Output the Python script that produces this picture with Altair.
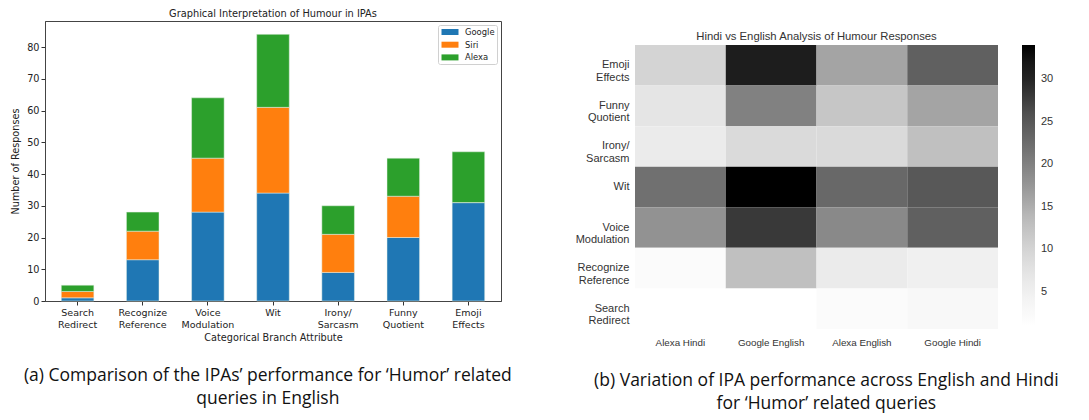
import altair as alt
import pandas as pd

# ---- Left panel data (stacked bars) ----
categories = ["Search|Redirect", "Recognize|Reference", "Voice|Modulation", "Wit",
              "Irony/|Sarcasm", "Funny|Quotient", "Emoji|Effects"]
series = ["Google", "Siri", "Alexa"]
google = [1, 13, 28, 34, 9, 20, 31]
siri = [2, 9, 17, 27, 12, 13, 0]
alexa = [2, 6, 19, 23, 9, 12, 16]
bar_colors = ["#1f77b4", "#ff7f0e", "#2ca02c"]
y_ticks = [0, 10, 20, 30, 40, 50, 60, 70, 80]

# ---- Right panel data (heatmap) ----
hm_rows = ["Emoji|Effects", "Funny|Quotient", "Irony/|Sarcasm", "Wit",
           "Voice|Modulation", "Recognize|Reference", "Search|Redirect"]
hm_cols = ["Alexa Hindi", "Google English", "Alexa English", "Google Hindi"]
alexa_hindi = [10, 7, 6, 22, 18, 2, 1]
google_english = [31, 20, 9, 34, 28, 13, 1]
alexa_english = [16, 12, 9, 23, 19, 6, 2]
google_hindi = [24, 16, 13, 25, 24, 5, 3]
cbar_ticks = [5, 10, 15, 20, 25, 30]
# matplotlib "Greys" colormap anchors, spread over the colour range 1..34
greys_stops = [1, 5.125, 9.25, 13.375, 17.5, 21.625, 25.75, 29.875, 34]
greys_colors = ["#ffffff", "#f0f0f0", "#d9d9d9", "#bdbdbd", "#969696",
                "#737373", "#525252", "#252525", "#000000"]

heat_title = "Hindi vs English Analysis of Humour Responses"
caption_a = ["(a) Comparison of the IPAs\u2019 performance for \u2018Humor\u2019 related",
             "queries in English"]
caption_b = ["(b) Variation of IPA performance across English and Hindi",
             "for \u2018Humor\u2019 related queries"]

rows = []
for i, c in enumerate(categories):
    for j, (s, vals) in enumerate(zip(series, [google, siri, alexa])):
        rows.append({"cat": c, "series": s, "value": vals[i], "ord": j})
bar_df = pd.DataFrame(rows)

hm = []
for col, vals in zip(hm_cols, [alexa_hindi, google_english, alexa_english, google_hindi]):
    for r, v in zip(hm_rows, vals):
        hm.append({"row": r, "col": col, "value": v})
hm_df = pd.DataFrame(hm)

MPL = "DejaVu Sans"
SNS = "Liberation Sans"

left = alt.Chart(bar_df).mark_bar(stroke="#e6f0e6", strokeWidth=0.5).encode(
    x=alt.X("cat:N", sort=categories,
            scale=alt.Scale(paddingInner=0.5, paddingOuter=0.25),
            axis=alt.Axis(title="Categorical Branch Attribute", labelAngle=0,
                          labelExpr="split(datum.value, '|')",
                          labelFont=MPL, labelFontSize=9.5, labelColor="#222",
                          labelLineHeight=12.5, labelPadding=2,
                          tickSize=4, tickColor="#333", domainColor="#444",
                          titleFont=MPL, titleFontSize=9.7, titleFontWeight="normal",
                          titleColor="#222", titlePadding=3)),
    y=alt.Y("value:Q", stack="zero",
            scale=alt.Scale(domain=[0, 88.2], nice=False),
            axis=alt.Axis(values=y_ticks, title="Number of Responses", grid=False,
                          labelFont=MPL, labelFontSize=9.7, labelColor="#222",
                          tickSize=4, tickColor="#333", domainColor="#444",
                          titleFont=MPL, titleFontSize=9.7, titleFontWeight="normal",
                          titleColor="#222", titlePadding=6)),
    color=alt.Color("series:N", sort=series,
                    scale=alt.Scale(domain=series, range=bar_colors),
                    legend=alt.Legend(title=None, orient="none", legendX=393, legendY=4,
                                      symbolType="M-1.7,-0.6L1.7,-0.6L1.7,0.6L-1.7,0.6Z",
                                      symbolSize=100, symbolStrokeWidth=0,
                                      symbolOffset=5,
                                      labelFont=MPL, labelFontSize=8.4, labelColor="#222",
                                      labelOffset=10, rowPadding=2.7,
                                      padding=2, strokeColor="#d0d0d0",
                                      fillColor="white", cornerRadius=2)),
    order=alt.Order("ord:Q", sort="ascending"),
).properties(
    width=456, height=280,
    view=alt.ViewBackground(stroke="#444", strokeWidth=1),
    title=alt.TitleParams("Graphical Interpretation of Humour in IPAs", font=MPL,
                          fontSize=9.8, fontWeight="normal", color="#222", offset=2),
)

# heatmap: 24 px of empty band padding on top holds the heatmap title
heat = alt.Chart(hm_df).mark_rect().encode(
    x=alt.X("col:N", sort=hm_cols, scale=alt.Scale(paddingInner=0, paddingOuter=0),
            axis=alt.Axis(title=None, labelAngle=0, ticks=False, domain=False,
                          labelFont=SNS, labelFontSize=9.8, labelColor="#333",
                          labelPadding=8)),
    y=alt.Y("row:N", sort=hm_rows,
            scale=alt.Scale(paddingInner=0, paddingOuter=0.296, align=1),
            axis=alt.Axis(title=None, ticks=False, domain=False,
                          labelExpr="split(datum.value, '|')",
                          labelFont=SNS, labelFontSize=11, labelColor="#333",
                          labelLineHeight=12.5, labelPadding=6)),
    color=alt.Color("value:Q",
                    scale=alt.Scale(domain=greys_stops, range=greys_colors),
                    legend=alt.Legend(title=None, orient="none", legendX=387, legendY=24,
                                      gradientLength=281, gradientThickness=13,
                                      values=cbar_ticks, padding=0,
                                      gradientStrokeWidth=0,
                                      labelFont=SNS, labelFontSize=11, labelColor="#333",
                                      labelOffset=6)),
)

title_layer = alt.Chart(pd.DataFrame({"t": [heat_title]})).mark_text(
    font=SNS, fontSize=11.3, color="#333", baseline="middle", align="center"
).encode(text="t:N", x=alt.value(181.5), y=alt.value(16))

right = alt.layer(heat, title_layer).properties(
    width=363, height=308,
    view=alt.ViewBackground(stroke="transparent"),
)

cap_style = dict(orient="bottom", anchor="middle", font="Open Sans", fontSize=17.5,
                 fontWeight="normal", color="#111", lineHeight=22.5)

panel_a = alt.vconcat(left, title=alt.TitleParams(caption_a, dx=12, offset=25, **cap_style))
panel_b = alt.vconcat(right, title=alt.TitleParams(caption_b, dx=12, offset=25, **cap_style))

chart = alt.hconcat(panel_a, panel_b, spacing=62).properties(
    padding={"left": 2, "top": 0, "right": 0, "bottom": 0}
).configure(background="white")

chart.save("out.html", embed_options={"renderer": "svg", "actions": False})
